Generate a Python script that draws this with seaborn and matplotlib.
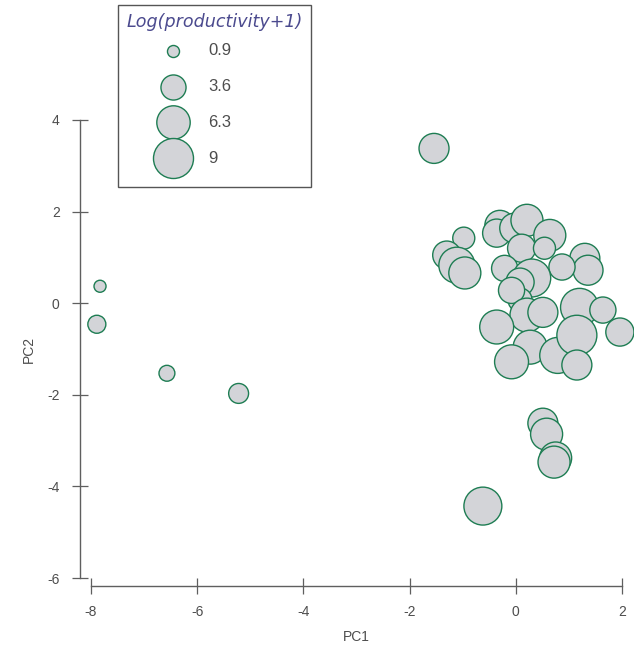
import matplotlib
matplotlib.use("Agg")
import matplotlib.pyplot as plt
from matplotlib.offsetbox import DrawingArea
import pandas as pd
import seaborn as sns

# PCA scores
pc1 = [-1.54, -0.98, -1.30, -1.11, -0.96, -0.30, -0.36, -0.02, 0.21, 0.64,
       0.11, 0.54, 1.30, 1.36, 0.87, -0.21, 0.30, 0.08, 0.08, -0.08,
       0.21, 0.51, 1.20, 1.64, -0.36, 0.27, -0.08, 0.79, 1.15, 1.15,
       1.96, 0.51, 0.58, 0.75, 0.72, -0.62, -7.83, -7.89, -6.57, -5.22]
pc2 = [3.38, 1.42, 1.05, 0.83, 0.66, 1.70, 1.53, 1.64, 1.81, 1.48,
       1.20, 1.20, 0.98, 0.72, 0.79, 0.76, 0.55, 0.46, 0.07, 0.28,
       -0.26, -0.20, -0.09, -0.15, -0.52, -0.96, -1.28, -1.14, -0.70, -1.35,
       -0.63, -2.62, -2.86, -3.38, -3.47, -4.43, 0.37, -0.46, -1.53, -1.97]
log_prod = [5.1, 2.8, 4.5, 7.3, 5.8, 5.1, 4.5, 5.1, 5.8, 5.8,
            4.5, 2.8, 5.1, 5.1, 3.9, 3.9, 8.1, 4.5, 3.3, 3.9,
            6.5, 5.1, 8.1, 3.9, 6.5, 6.5, 6.5, 7.3, 9.0, 5.1,
            4.5, 5.1, 5.8, 5.8, 5.8, 8.1, 0.9, 1.9, 1.5, 2.3]
legend_values = [0.9, 3.6, 6.3, 9]
x_ticks = [-8, -6, -4, -2, 0, 2]
y_ticks = [-6, -4, -2, 0, 2, 4]

FILL = "#d3d4d8"
EDGE = "#1e7d53"
TEXT = "#4d4d4d"
AXIS = "#5f5f5f"
TITLE = "#4b4a8e"
SIZES = (75, 830)
NORM = (0.9, 9)

sns.set_theme(style="white")
plt.rcParams["font.family"] = ["Liberation Sans", "DejaVu Sans"]

df = pd.DataFrame({"PC1": pc1, "PC2": pc2, "prod": log_prod})

W, H = 634, 646
fig = plt.figure(figsize=(W / 100, H / 100), dpi=100)
ax = fig.add_axes([91 / W, 1 - 578 / H, 531 / W, 458 / H])

sns.scatterplot(data=df, x="PC1", y="PC2", size="prod", sizes=SIZES,
                size_norm=NORM, color=FILL, edgecolor=EDGE, linewidth=1,
                alpha=1, legend=False, clip_on=False, ax=ax)

ax.set_xlim(-8, 2)
ax.set_ylim(-6, 4)
ax.set_xticks(x_ticks)
ax.set_yticks(y_ticks)
ax.set_xticklabels([str(t) for t in x_ticks])
ax.set_yticklabels([str(t) for t in y_ticks])

for side in ["top", "right"]:
    ax.spines[side].set_visible(False)
ax.spines["left"].set_position(("outward", 8))
ax.spines["bottom"].set_position(("outward", 6))
ax.spines["left"].set_bounds(-6, 4)
ax.spines["bottom"].set_bounds(-8, 2)
for side in ["left", "bottom"]:
    ax.spines[side].set_color(AXIS)
    ax.spines[side].set_linewidth(1)

ax.tick_params(bottom=True, left=True, direction="inout", length=11, width=0.9,
               color=AXIS, labelsize=10, labelcolor=TEXT)
ax.tick_params(axis="y", pad=9)
ax.tick_params(axis="x", pad=8)
ax.set_xlabel("PC1", fontsize=10, color=TEXT, labelpad=8)
ax.set_ylabel("PC2", fontsize=10, color=TEXT, labelpad=8)


def size_for(v):
    return SIZES[0] + (v - NORM[0]) / (NORM[1] - NORM[0]) * (SIZES[1] - SIZES[0])


handles = [ax.scatter([], [], s=size_for(v), color=FILL, edgecolor=EDGE, linewidth=1)
           for v in legend_values]
leg = ax.legend(handles, [f"{v:g}" for v in legend_values],
                title="Log(productivity+1)", loc="upper left",
                bbox_to_anchor=(118 / W, 1 - 5 / H), bbox_transform=fig.transFigure,
                borderaxespad=0, frameon=True, fancybox=False, framealpha=1,
                edgecolor="#555555", fontsize=12, alignment="left",
                borderpad=0.5, handlelength=5.6, handletextpad=-0.7,
                labelspacing=1.25, scatterpoints=1, labelcolor=TEXT)
title = leg.get_title()
title.set_fontfamily(["DejaVu Sans"])
title.set_fontsize(12.6)
title.set_style("italic")
title.set_color(TITLE)
leg.get_frame().set_linewidth(1)
# pull the entries closer to the title and leave extra room at the bottom
leg._legend_box.sep = 8.5
leg._legend_box._children.append(DrawingArea(1, 1))

fig.savefig("out.png", dpi=100)
